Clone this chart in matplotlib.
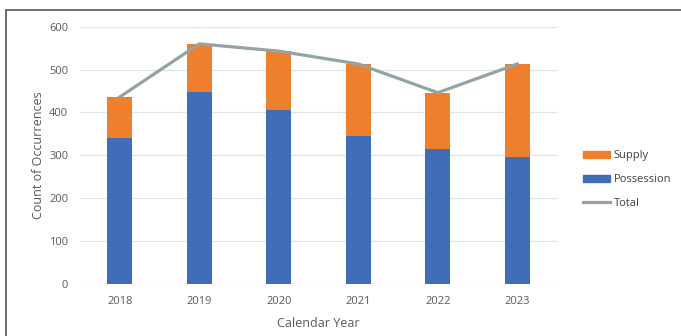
import matplotlib
matplotlib.use("Agg")
import matplotlib.pyplot as plt
from matplotlib.patches import Rectangle
from matplotlib.lines import Line2D
from matplotlib.patches import Patch

years = ["2018", "2019", "2020", "2021", "2022", "2023"]
possession = [341, 448, 406, 345, 315, 296]
supply = [96, 112, 137, 168, 131, 217]
total = [436, 560, 543, 513, 446, 513]

plt.rcParams['font.family'] = ['Open Sans', 'DejaVu Sans']

fig = plt.figure(figsize=(6.81, 3.36), dpi=100)
ax = fig.add_axes([0.1175, 0.1557, 0.7005, 0.7648])

x = list(range(len(years)))
ax.bar(x, possession, width=0.31, color="#3F6DB8", zorder=3, label="Possession")
ax.bar(x, supply, width=0.31, bottom=possession, color="#EE7F2D", zorder=3, label="Supply")
ax.plot(x, total, color="#95A3A3", lw=2.3, zorder=4, label="Total")

ax.set_xlim(-0.5, 5.5)
ax.set_ylim(0, 600)
ax.set_yticks([0, 100, 200, 300, 400, 500, 600])
ax.set_xticks(x)
ax.set_xticklabels(years)
ax.yaxis.grid(True, color="#DCE5EE", lw=0.9, zorder=0)
for s in ax.spines.values():
    s.set_visible(False)
ax.tick_params(axis='both', length=0, labelsize=8, labelcolor="#595959")
ax.tick_params(axis='x', pad=9)
ax.tick_params(axis='y', pad=8.5)
ax.set_xlabel("Calendar Year", fontsize=9, color="#595959", labelpad=7)
ax.set_ylabel("Count of Occurrences", fontsize=9, color="#595959", labelpad=3)

handles = [Patch(color="#EE7F2D"), Patch(color="#3F6DB8"), Line2D([0], [0], color="#95A3A3", lw=2.3)]
fig.legend(handles, ["Supply", "Possession", "Total"], loc="center left",
           bbox_to_anchor=(0.842, 0.465), frameon=False, fontsize=8,
           labelcolor="#404040", handlelength=2.4, handleheight=0.6,
           handletextpad=0.3, labelspacing=1.15)

fig.patches.append(Rectangle((6/681, -0.1), 1.2, 0.97 + 0.1, transform=fig.transFigure,
                             fill=False, edgecolor="#555555", lw=1.2))

fig.savefig("out.png", dpi=100)
